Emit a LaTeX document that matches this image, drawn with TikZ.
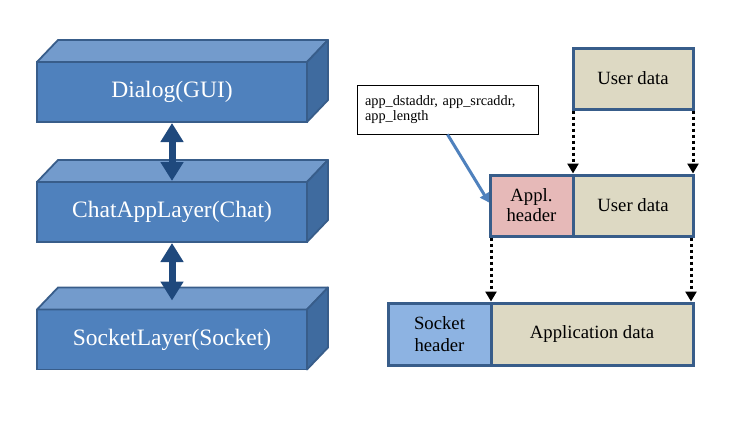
\documentclass[tikz,border=0pt]{standalone}
\usepackage{fontspec}
\setmainfont{Liberation Serif}
\usetikzlibrary{arrows.meta,calc}
\definecolor{frontc}{HTML}{4F81BD}
\definecolor{topc}{HTML}{739BCC}
\definecolor{sidec}{HTML}{3F6B9F}
\definecolor{bordc}{HTML}{385D8A}
\definecolor{arrc}{HTML}{1F497D}
\definecolor{tanc}{HTML}{DDD9C3}
\definecolor{pinkc}{HTML}{E6B9B8}
\definecolor{sockc}{HTML}{8DB3E2}
\begin{document}
\begin{tikzpicture}[x=1pt,y=-1pt,
  layer/.style={draw=bordc,line width=1.8pt,fill=frontc,minimum width=270pt,minimum height=60pt,
    inner sep=0pt,outer sep=0pt,text=white,font=\fontsize{23.5}{26}\selectfont},
  topface/.style={draw=bordc,line width=1.8pt,fill=topc,line join=round},
  sideface/.style={draw=bordc,line width=1.8pt,fill=sidec,line join=round},
  dbl/.style={arrc,line width=7pt,{Triangle[length=19pt,width=22pt]}-{Triangle[length=19pt,width=22pt]}},
  field/.style={draw=bordc,line width=3pt,minimum height=61pt,inner sep=0pt,outer sep=0pt,align=center,
    font=\fontsize{18.7}{18}\selectfont},
  dotarrow/.style={line width=3pt,dash pattern=on 3pt off 3pt,-{Triangle[length=10pt,width=11pt]}},
  callout/.style={draw=black,line width=0.8pt,fill=white,minimum width=181pt,minimum height=49pt,
    inner sep=0pt,text width=165pt,align=left,font=\fontsize{14.3}{15.5}\selectfont}
]
\useasboundingbox[fill=white] (0,0) rectangle (747,421);

% left stack
\node[layer] (b1) at (172,92) {Dialog(GUI)};
\node[layer] (b2) at (172,212) {ChatAppLayer(Chat)};
\node[layer] (b3) at (172,339.5) {SocketLayer(Socket)};
\foreach \n in {b1,b2,b3}{
  \draw[topface] (\n.north west) -- ++(21,-22) -- ($(\n.north east)+(21,-22)$) -- (\n.north east) -- cycle;
  \draw[sideface] (\n.north east) -- ++(21,-22) -- ($(\n.south east)+(21,-22)$) -- (\n.south east) -- cycle;
}
\draw[dbl,shorten >=1pt,shorten <=1pt] (b1.south) -- (b2.north);
\draw[dbl,shorten >=9pt,shorten <=1pt] (b2.south) -- (b3.north);

% right side
\node[field,fill=tanc,minimum width=120pt] (ud1) at (633,78.5) {User data};
\node[field,fill=pinkc,minimum width=83pt,font=\fontsize{18.7}{20}\selectfont] (ah) at (531.5,205.5) {\raisebox{0pt}{Appl.}\\header};
\node[field,fill=tanc,minimum width=120pt] (ud2) at (633,205.5) {User data};
\node[field,fill=sockc,minimum width=103pt,minimum height=62pt,font=\fontsize{18.7}{21.5}\selectfont] (sh) at (439.5,334) {Socket\\header};
\node[field,fill=tanc,minimum width=202pt,minimum height=62pt] (ad) at (592,334) {Application data};

\node[callout] (co) at (447.5,109.5) {app\_dstaddr, app\_srcaddr,\\app\_length};

\draw[dotarrow,shorten <=1.5pt,shorten >=1.5pt] (ud1.south west) -- (ah.north east);
\draw[dotarrow,shorten <=1.5pt,shorten >=1.5pt] (ud1.south east) -- (ud2.north east);
\draw[dotarrow,shorten <=1.5pt,shorten >=1.5pt] ($(ah.south west)+(1,0)$) -- (sh.north east);
\draw[dotarrow,shorten <=1.5pt,shorten >=1.5pt] ($(ud2.south east)+(-2,0)$) -- ($(ad.north east)+(-2,0)$);

\draw[frontc,line width=3pt,-{Triangle[length=9pt,width=10pt]}] (co.south) -- ($(ah.west)+(-1,-3)$);
\end{tikzpicture}
\end{document}
